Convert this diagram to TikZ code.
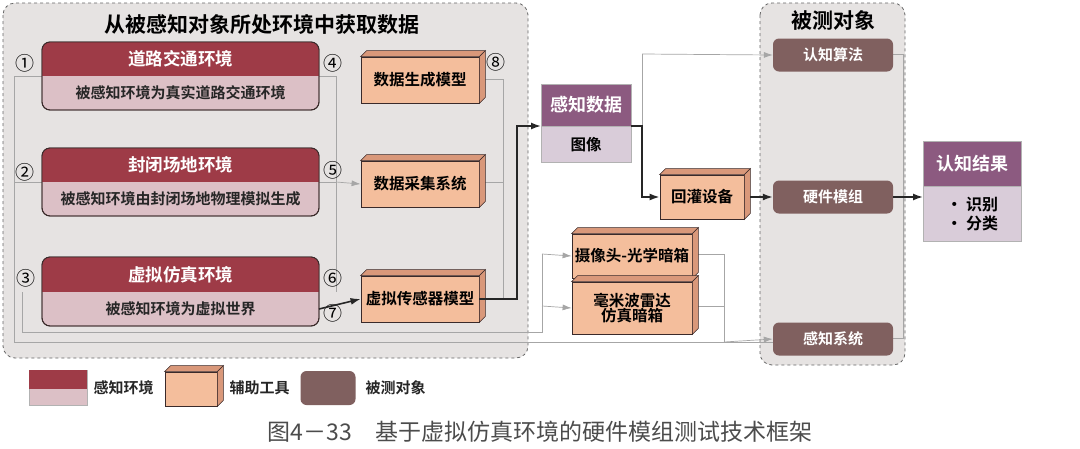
\documentclass[tikz,border=0pt]{standalone}
\usepackage{fontspec}
\setmainfont{Noto Sans CJK SC}[BoldFont={Noto Sans CJK SC Bold}]
\usetikzlibrary{arrows.meta,calc}
\definecolor{envdark}{HTML}{9E3B47}
\definecolor{envlight}{HTML}{DCC0C6}
\definecolor{auxc}{HTML}{F4BE9C}
\definecolor{auxs}{HTML}{D9987A}
\definecolor{purp}{HTML}{8C5A80}
\definecolor{lav}{HTML}{D9CCD9}
\definecolor{tested}{HTML}{80605F}
\definecolor{cont}{HTML}{E6E3E2}
\definecolor{edge}{HTML}{3A2A2A}
\tikzset{
 x=1pt,y=-1pt,
 container/.style={draw=gray!80!black,dashed,fill=cont,rounded corners=12pt,line width=0.8pt},
 ttl/.style={font=\fontsize{21}{23}\selectfont\bfseries},
 head/.style={font=\fontsize{17.5}{19}\selectfont\bfseries,text=white},
 sub/.style={font=\fontsize{15}{17}\selectfont\bfseries,text=black!85},
 num/.style={font=\fontsize{19}{21}\selectfont},
 aux/.style={draw=edge,fill=auxc,line width=0.8pt,font=\fontsize{15.5}{17}\selectfont\bfseries,inner sep=0pt,align=center},
 auxside/.style={draw=edge,fill=auxs,line width=0.6pt},
 tbox/.style={fill=tested,text=white,font=\fontsize{15}{17}\selectfont\bfseries,inner sep=0pt,rounded corners=6pt},
 gl/.style={draw=gray!70,line width=0.7pt},
 garr/.style={gl,-{Latex[length=9pt,width=6pt]}},
 barr/.style={draw=black!85,line width=1.6pt,-{Latex[length=10pt,width=7pt]}},
 bl/.style={draw=black!85,line width=1.6pt},
}
\newcommand\auxbox[6]{%
 \node[aux,minimum width=#4,minimum height=#5] (#1) at (#2,#3) {#6};
 \draw[auxside] (#1.north west) -- ++(6,-6) -- ([shift={(6,-6)}]#1.north east) -- (#1.north east) -- cycle;
 \draw[auxside] (#1.north east) -- ([shift={(6,-6)}]#1.north east) -- ([shift={(6,-6)}]#1.south east) -- (#1.south east) -- cycle;}
\newcommand\envbox[6]{%
 \fill[envlight,draw=edge,line width=0.9pt,rounded corners=8pt] (#2,#3) rectangle (#4,#6);
 \begin{scope}
 \clip[rounded corners=8pt] (#2,#3) rectangle (#4,#6);
 \fill[envdark] (#2,#3) rectangle (#4,#5);
 \end{scope}
 \draw[edge,line width=0.9pt,rounded corners=8pt] (#2,#3) rectangle (#4,#6);
 \coordinate (#1-r) at (#4,{(#5+#6)/2});
 \coordinate (#1-t) at ({(#2+#4)/2},{(#3+#5)/2});
 \coordinate (#1-b) at ({(#2+#4)/2},{(#5+#6)/2});}
\begin{document}
\begin{tikzpicture}
\useasboundingbox[fill=white] (0,0) rectangle (1080,448);
\draw[container] (3,3) rectangle (528,358);
\draw[container] (760,3) rectangle (905,365);
\node[ttl] (t1) at (262,24) {从被感知对象所处环境中获取数据};
\node[ttl] (t2) at (833,20) {被测对象};
\draw[gl] (14,76) -- (336,76) -- (336,292);
\draw[gl] (14,76) -- (14,342) -- (785,342);
\draw[gl] (22,292) -- (22,332) -- (542,332) -- (542,254);
\draw[gl] (14,182) -- (336,182);
\draw[gl] (482,79) -- (503,79) -- (503,298);
\draw[gl] (482,182) -- (503,182);
\draw[gl] (642,126) -- (642,54);
\draw[gl] (694,254) -- (724,254) -- (724,342);
\draw[gl] (694,306) -- (724,306);
\draw[gl] (893,54) -- (903,54) -- (903,338) -- (893,338);
\envbox{e1}{42}{42}{319}{76}{110}
\envbox{e2}{42}{148}{319}{182}{216}
\envbox{e3}{42}{257}{319}{292}{326}
\node[head] (h1) at (e1-t) {道路交通环境};
\node[sub] (s1) at (e1-b) {被感知环境为真实道路交通环境};
\node[head] (h2) at (e2-t) {封闭场地环境};
\node[sub] (s2) at (e2-b) {被感知环境由封闭场地物理模拟生成};
\node[head] (h3) at (e3-t) {虚拟仿真环境};
\node[sub] (s3) at (e3-b) {被感知环境为虚拟世界};
\node[num] (n1) at (25,63) {①};
\node[num] (n2) at (25,172) {②};
\node[num] (n3) at (26,278) {③};
\node[num] (n4) at (333,63) {④};
\node[num] (n5) at (333,170) {⑤};
\node[num] (n6) at (333,278) {⑥};
\node[num] (n7) at (333,313) {⑦};
\node[num] (n8) at (496,62) {⑧};
\auxbox{a1}{420}{80}{118}{46}{数据生成模型}
\auxbox{a2}{420}{184}{118}{46}{数据采集系统}
\auxbox{a3}{420}{299}{118}{46}{虚拟传感器模型}
\auxbox{hg}{702}{197}{84}{44}{回灌设备}
\auxbox{cam}{632}{256}{120}{44}{摄像头-光学暗箱}
\auxbox{mmw}{632}{308}{120}{52}{毫米波雷达\\[-2pt]仿真暗箱}
\node[fill=purp,draw=gray!60,minimum width=90pt,minimum height=42pt,inner sep=0pt,text=white,font=\fontsize{18}{20}\selectfont\bfseries,anchor=south west] (pd) at (541,126) {感知数据};
\node[fill=lav,draw=gray!60,minimum width=90pt,minimum height=36pt,inner sep=0pt,font=\fontsize{15.5}{17}\selectfont\bfseries,anchor=north west] (pi) at (541,126) {图像};
\node[fill=purp,draw=gray!60,minimum width=98pt,minimum height=45pt,inner sep=0pt,text=white,font=\fontsize{18}{20}\selectfont\bfseries,anchor=south west] (rj) at (923,186) {认知结果};
\node[fill=lav,draw=gray!60,minimum width=98pt,minimum height=55pt,inner sep=0pt,font=\fontsize{16}{19}\selectfont\bfseries,align=left,anchor=north west] (rl) at (923,186) {· 识别\\· 分类};
\node[tbox,minimum width=120pt,minimum height=33pt] (c1) at (833,55) {认知算法};
\node[tbox,minimum width=120pt,minimum height=33pt] (c2) at (833,197) {硬件模组};
\node[tbox,minimum width=120pt,minimum height=33pt] (c3) at (833,339) {感知系统};
\draw[garr] (336,182) -- (a2.west);
\draw[garr] (642,54) -- (c1.west);
\draw[garr] (542,254) -- (cam.west);
\draw[garr] (542,306) -- (mmw.west);
\draw[garr] (724,342) -- (c3.west);
\draw[barr] (e3-r) -- (a3.west);
\draw[barr] (a3.east) -- (517,299) -- (517,126) -- (pd.south west);
\draw[barr] (pd.south east) -- (642,126) -- (642,197) -- (hg.west);
\draw[barr] ([xshift=6pt]hg.east) -- (c2.west);
\draw[barr] (c2.east) -- (rj.south west |- c2.east);
\fill[envlight,draw=gray!60] (29,370) rectangle (87,405);
\fill[envdark] (29,370) rectangle (87,389);
\node[sub,anchor=west] (l1) at (90,388) {感知环境};
\auxbox{lg}{191}{389}{52}{34}{}
\node[sub,anchor=west] (l2) at (226,388) {辅助工具};
\node[tbox,minimum width=55pt,minimum height=34pt] (lt) at (328,388) {};
\node[sub,anchor=west] (l3) at (362,388) {被测对象};
\node[font=\fontsize{23}{25}\selectfont,text=black!70] (cap) at (540,432) {图4－33\quad 基于虚拟仿真环境的硬件模组测试技术框架};
\end{tikzpicture}
\end{document}
